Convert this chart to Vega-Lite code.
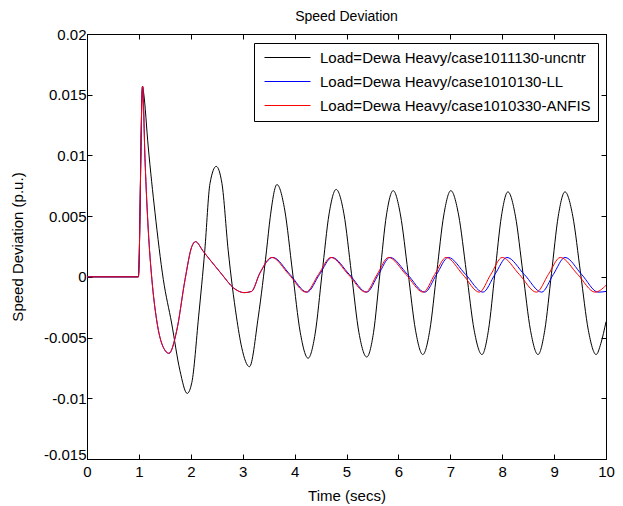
{
  "$schema": "https://vega.github.io/schema/vega-lite/v6.json",
  "width": 519,
  "height": 425,
  "autosize": "none",
  "padding": {"left": 87, "top": 34, "right": 17, "bottom": 47},
  "background": "white",
  "title": {"text": "Speed Deviation", "font": "Liberation Sans", "fontSize": 14, "fontWeight": "normal", "color": "black", "anchor": "middle", "offset": 3},
  "config": {
    "view": {"stroke": "black", "strokeWidth": 1},
    "axis": {"grid": false, "domainColor": "black", "tickColor": "black", "labelColor": "black", "titleColor": "black", "labelFont": "Liberation Sans", "titleFont": "Liberation Sans", "labelFontSize": 15, "titleFontSize": 15, "titleFontWeight": "normal", "tickSize": -5, "labelFlush": false, "labelOverlap": false}
  },
  "datasets": {
    "uncntr": [
      {"t": 0, "v": 0}, {"t": 0.99, "v": 0}, {"t": 1.07, "v": 0.0157}, {"t": 1.09, "v": 0.0152}, {"t": 1.18, "v": 0.0107}, {"t": 1.31, "v": 0.0053}, {"t": 1.47, "v": -0.0002}, {"t": 1.63, "v": -0.0038}, {"t": 1.79, "v": -0.0077}, {"t": 1.93, "v": -0.0096}, {"t": 2.02, "v": -0.0087}, {"t": 2.15, "v": -0.0033}, {"t": 2.27, "v": 0.0022}, {"t": 2.37, "v": 0.0077}, {"t": 2.49, "v": 0.0091}, {"t": 2.6, "v": 0.0077}, {"t": 2.72, "v": 0.0022}, {"t": 2.88, "v": -0.0033}, {"t": 2.98, "v": -0.0058}, {"t": 3.13, "v": -0.0074}, {"t": 3.3, "v": -0.0033}, {"t": 3.46, "v": 0.0022}, {"t": 3.53, "v": 0.0049}, {"t": 3.66, "v": 0.0076}, {"t": 3.81, "v": 0.0055}, {"t": 3.96, "v": 0.0004}, {"t": 4.11, "v": -0.0046}, {"t": 4.26, "v": -0.0067}, {"t": 4.395, "v": -0.0047}, {"t": 4.53, "v": 0.0003}, {"t": 4.665, "v": 0.0052}, {"t": 4.8, "v": 0.0072}, {"t": 4.95, "v": 0.0052}, {"t": 5.095, "v": 0.0003}, {"t": 5.24, "v": -0.0046}, {"t": 5.39, "v": -0.0066}, {"t": 5.52, "v": -0.0046}, {"t": 5.645, "v": 0.0003}, {"t": 5.77, "v": 0.0051}, {"t": 5.9, "v": 0.0071}, {"t": 6.04, "v": 0.0051}, {"t": 6.185, "v": 0.0004}, {"t": 6.33, "v": -0.0044}, {"t": 6.47, "v": -0.0064}, {"t": 6.605, "v": -0.0044}, {"t": 6.74, "v": 0.0004}, {"t": 6.875, "v": 0.0051}, {"t": 7.01, "v": 0.0071}, {"t": 7.16, "v": 0.0051}, {"t": 7.31, "v": 0.0004}, {"t": 7.46, "v": -0.0044}, {"t": 7.61, "v": -0.0064}, {"t": 7.735, "v": -0.0044}, {"t": 7.86, "v": 0.0003}, {"t": 7.985, "v": 0.005}, {"t": 8.11, "v": 0.007}, {"t": 8.255, "v": 0.005}, {"t": 8.4, "v": 0.0003}, {"t": 8.545, "v": -0.0044}, {"t": 8.69, "v": -0.0064}, {"t": 8.82, "v": -0.0044}, {"t": 8.95, "v": 0.0003}, {"t": 9.08, "v": 0.005}, {"t": 9.21, "v": 0.007}, {"t": 9.36, "v": 0.005}, {"t": 9.51, "v": 0.0003}, {"t": 9.66, "v": -0.0044}, {"t": 9.81, "v": -0.0064}, {"t": 9.9, "v": -0.0055}, {"t": 10, "v": -0.0037}
    ],
    "ll": [
      {"t": 0, "v": 0}, {"t": 0.99, "v": 0}, {"t": 1.07, "v": 0.0157}, {"t": 1.12, "v": 0.0094}, {"t": 1.18, "v": 0.0039}, {"t": 1.25, "v": -0.0002}, {"t": 1.34, "v": -0.0035}, {"t": 1.47, "v": -0.0058}, {"t": 1.58, "v": -0.0063}, {"t": 1.73, "v": -0.0044}, {"t": 1.89, "v": -0.0002}, {"t": 2.02, "v": 0.0025}, {"t": 2.09, "v": 0.0029}, {"t": 2.24, "v": 0.0021}, {"t": 2.37, "v": 0.0014}, {"t": 2.6, "v": 0.0002}, {"t": 2.82, "v": -0.0009}, {"t": 3.03, "v": -0.0013}, {"t": 3.17, "v": -0.0012}, {"t": 3.33, "v": 0.0003}, {"t": 3.58, "v": 0.0016}, {"t": 3.91, "v": 0.0002}, {"t": 4.24, "v": -0.00126}, {"t": 4.48, "v": 0.0002}, {"t": 4.72, "v": 0.0016}, {"t": 5.055, "v": 0.0002}, {"t": 5.39, "v": -0.00126}, {"t": 5.615, "v": 0.0002}, {"t": 5.84, "v": 0.0016}, {"t": 6.175, "v": 0.0002}, {"t": 6.51, "v": -0.00126}, {"t": 6.735, "v": 0.0002}, {"t": 6.96, "v": 0.0016}, {"t": 7.295, "v": 0.0002}, {"t": 7.63, "v": -0.00126}, {"t": 7.86, "v": 0.0002}, {"t": 8.09, "v": 0.0016}, {"t": 8.425, "v": 0.0002}, {"t": 8.76, "v": -0.00126}, {"t": 8.985, "v": 0.0002}, {"t": 9.21, "v": 0.0016}, {"t": 9.53, "v": 0.0002}, {"t": 9.85, "v": -0.00126}, {"t": 10, "v": -0.0012}
    ],
    "anfis": [
      {"t": 0, "v": 0}, {"t": 0.99, "v": 0}, {"t": 1.07, "v": 0.0157}, {"t": 1.12, "v": 0.0094}, {"t": 1.18, "v": 0.0039}, {"t": 1.25, "v": -0.0002}, {"t": 1.34, "v": -0.0035}, {"t": 1.47, "v": -0.0058}, {"t": 1.58, "v": -0.0063}, {"t": 1.73, "v": -0.0044}, {"t": 1.89, "v": -0.0002}, {"t": 2.02, "v": 0.0025}, {"t": 2.09, "v": 0.0029}, {"t": 2.24, "v": 0.0021}, {"t": 2.37, "v": 0.0014}, {"t": 2.6, "v": 0.0002}, {"t": 2.82, "v": -0.0009}, {"t": 3.03, "v": -0.0013}, {"t": 3.17, "v": -0.0012}, {"t": 3.33, "v": 0.0003}, {"t": 3.56, "v": 0.0016}, {"t": 3.89, "v": 0.0002}, {"t": 4.22, "v": -0.00126}, {"t": 4.46, "v": 0.0002}, {"t": 4.7, "v": 0.0016}, {"t": 5.035, "v": 0.0002}, {"t": 5.37, "v": -0.00126}, {"t": 5.59, "v": 0.0002}, {"t": 5.81, "v": 0.0016}, {"t": 6.145, "v": 0.0002}, {"t": 6.48, "v": -0.00126}, {"t": 6.7, "v": 0.0002}, {"t": 6.92, "v": 0.0016}, {"t": 7.24, "v": 0.0002}, {"t": 7.56, "v": -0.00126}, {"t": 7.78, "v": 0.0002}, {"t": 8.0, "v": 0.0016}, {"t": 8.33, "v": 0.0002}, {"t": 8.66, "v": -0.00126}, {"t": 8.89, "v": 0.0002}, {"t": 9.12, "v": 0.0016}, {"t": 9.455, "v": 0.0002}, {"t": 9.79, "v": -0.00126}, {"t": 10, "v": -0.0007}
    ]
  },
  "resolve": {"axis": {"x": "independent", "y": "independent"}},
  "layer": [
    {
      "data": {"name": "uncntr"},
      "mark": {"type": "line", "interpolate": "monotone", "strokeWidth": 1, "clip": true},
      "encoding": {
        "x": {"field": "t", "type": "quantitative", "scale": {"domain": [0, 10], "nice": false, "zero": false},
              "axis": {"title": "Time (secs)", "values": [0,1,2,3,4,5,6,7,8,9,10], "labelPadding": 10, "titlePadding": 9}},
        "y": {"field": "v", "type": "quantitative", "scale": {"domain": [-0.015, 0.02], "nice": false, "zero": false},
              "axis": {"title": "Speed Deviation (p.u.)", "values": [-0.015,-0.01,-0.005,0,0.005,0.01,0.015,0.02], "labelExpr": "'' + datum.value", "labelPadding": 6, "titlePadding": 18,
                       "labelBaseline": {"condition": {"test": "datum.value < -0.012", "value": "alphabetic"}, "value": "middle"}}},
        "color": {"datum": "Load=Dewa Heavy/case1011130-uncntr", "type": "nominal",
                  "scale": {"domain": ["Load=Dewa Heavy/case1011130-uncntr", "Load=Dewa Heavy/case1010130-LL", "Load=Dewa Heavy/case1010330-ANFIS"], "range": ["#000000", "#0000ff", "#ff0000"]},
                  "legend": {"title": null, "orient": "none", "legendX": 167, "legendY": 9, "strokeColor": "black", "fillColor": "white", "padding": 7, "symbolType": "stroke", "symbolSize": 2116, "symbolOffset": 3, "symbolStrokeWidth": 1, "clipHeight": 15, "labelFont": "Liberation Sans", "labelFontSize": 15, "labelColor": "black", "labelOffset": 9, "rowPadding": 8, "labelLimit": 400}}
      }
    },
    {
      "data": {"name": "ll"},
      "mark": {"type": "line", "interpolate": "monotone", "strokeWidth": 1, "clip": true},
      "encoding": {
        "x": {"field": "t", "type": "quantitative", "axis": null},
        "y": {"field": "v", "type": "quantitative", "axis": null},
        "color": {"datum": "Load=Dewa Heavy/case1010130-LL", "type": "nominal"}
      }
    },
    {
      "data": {"name": "anfis"},
      "mark": {"type": "line", "interpolate": "monotone", "strokeWidth": 1, "clip": true},
      "encoding": {
        "x": {"field": "t", "type": "quantitative", "axis": {"orient": "top", "labels": false, "title": null, "values": [0,1,2,3,4,5,6,7,8,9,10]}},
        "y": {"field": "v", "type": "quantitative", "axis": {"orient": "right", "labels": false, "title": null, "values": [-0.015,-0.01,-0.005,0,0.005,0.01,0.015,0.02]}},
        "color": {"datum": "Load=Dewa Heavy/case1010330-ANFIS", "type": "nominal"}
      }
    }
  ]
}
